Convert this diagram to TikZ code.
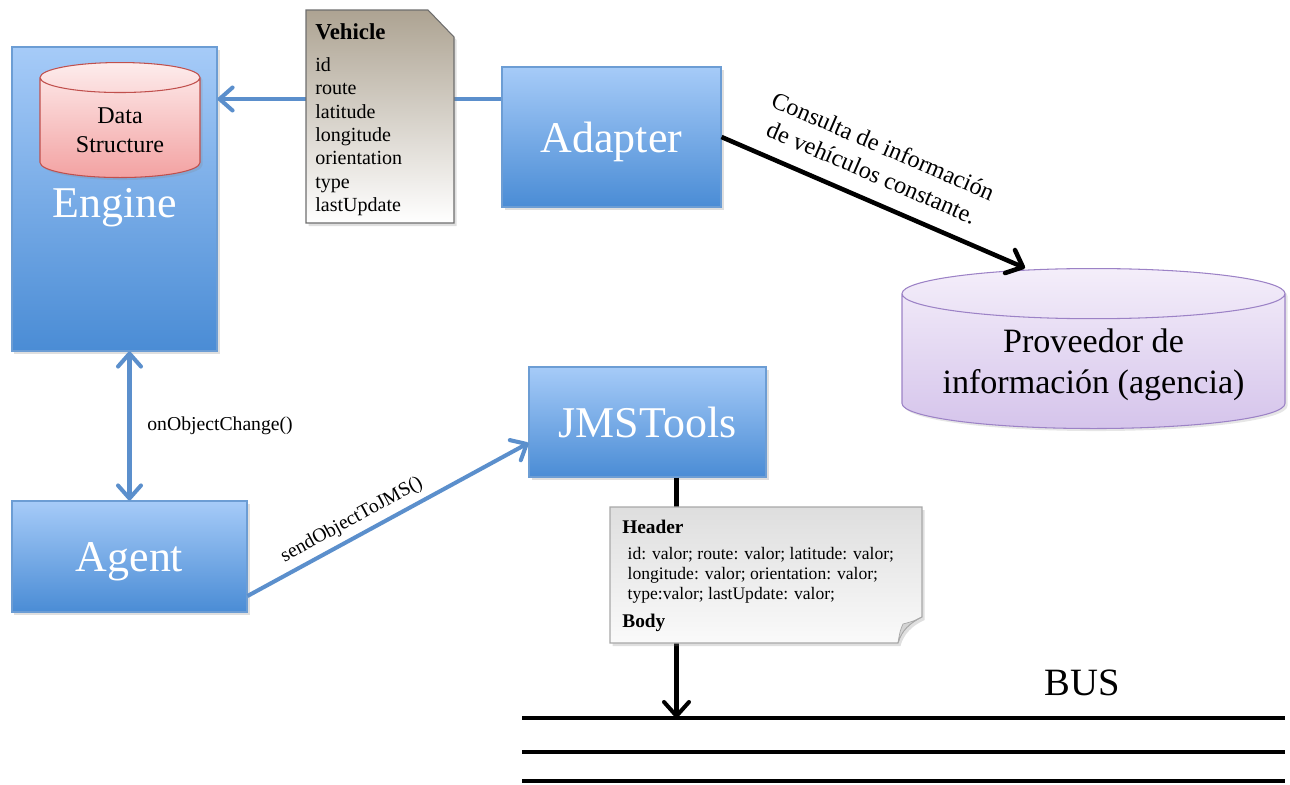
\documentclass[tikz,border=0pt]{standalone}
\usepackage{fontspec}
\setmainfont{Liberation Serif}
\usetikzlibrary{arrows.meta,positioning,calc,shapes.geometric,shadows}
\definecolor{boxtop}{HTML}{A6CBF8}
\definecolor{boxbot}{HTML}{4A8CD5}
\definecolor{boxline}{HTML}{6C9DD4}
\definecolor{flowc}{HTML}{5B8FCC}
\definecolor{dstop}{HTML}{FDECEC}
\definecolor{dsbot}{HTML}{F3A2A2}
\definecolor{dsline}{HTML}{C0504D}
\definecolor{provtop}{HTML}{F4EEFA}
\definecolor{provbot}{HTML}{D5C4EB}
\definecolor{provline}{HTML}{9C82C6}
\definecolor{vehtop}{HTML}{ADA392}
\definecolor{noteline}{HTML}{6E6E6E}
\definecolor{hdrtop}{HTML}{DEDEDE}
\definecolor{hdrbot}{HTML}{FAFAFA}
\definecolor{hdrline}{HTML}{A8A8A8}
\definecolor{curlc}{HTML}{D4D4D4}

\begin{document}
\begin{tikzpicture}[
    comp/.style={draw=boxline,line width=0.6pt,top color=boxtop,bottom color=boxbot,text=white,text depth=0pt,font=\fontsize{25}{28}\selectfont,drop shadow={opacity=0.25,shadow xshift=0.5mm,shadow yshift=-0.5mm}},
    store/.style={cylinder,shape border rotate=90,line width=0.6pt,align=center,anchor=north,drop shadow={opacity=0.2,shadow xshift=0.5mm,shadow yshift=-0.5mm}},
    note/.style={line width=0.6pt,drop shadow={opacity=0.25,shadow xshift=0.5mm,shadow yshift=-0.6mm}},
    flow/.style={flowc,line width=2.3pt,>={Straight Barb[round,length=2.6mm,width=4.6mm]}},
    push/.style={black,line width=2.6pt,>={Straight Barb[round,length=2.8mm,width=5mm]}},
    lbl/.style={text=black,font=\fontsize{11.2}{13}\selectfont},
  ]
  \useasboundingbox (0,0) rectangle (25.8,-15.7);

  \node[comp,minimum width=4.1cm,minimum height=6.08cm] (engine) at (2.29,-3.98) {\raisebox{-4pt}{Engine}};
  \node[store,draw=dsline,top color=dstop,bottom color=dsbot,minimum width=3.2cm,minimum height=2.3cm,aspect=0.3,font=\fontsize{13.7}{16.5}\selectfont] (ds) at (2.4,-1.24) {Data\\Structure};
  \node[comp,minimum width=4.38cm,minimum height=2.8cm] (adapter) at (12.23,-2.74) {Adapter};
  \node[comp,minimum width=4.74cm,minimum height=2.2cm] (jms) at (12.95,-8.44) {JMSTools};
  \node[comp,minimum width=4.7cm,minimum height=2.22cm] (agent) at (2.59,-11.13) {Agent};
  \node[store,draw=provline,top color=provtop,bottom color=provbot,minimum width=7.66cm,minimum height=3.2cm,aspect=0.16,font=\fontsize{19.4}{23.3}\selectfont] (prov) at (21.87,-5.36) {Proveedor de\\información (agencia)};

  \coordinate (aw) at ([yshift=0.76cm]adapter.west);
  \draw[flow,->] (aw) -- (aw -| engine.east);
  \draw[flow,<->] (agent.north) -- (agent.north |- engine.south)
    node[midway,right=0.2cm,lbl] {onObjectChange()};
  \draw[flow,->] ([yshift=-0.79cm]agent.east) -- ([yshift=-0.42cm]jms.west)
    node[pos=0.4,sloped,above,lbl] {sendObjectToJMS()};
  \draw[push,->] (adapter.east) -- ([xshift=-1.37cm]prov.north)
    node[pos=0.46,sloped,above=0.2cm,align=center,font=\fontsize{13.8}{16.5}\selectfont] {Consulta de información\\de vehículos constante.};

  \foreach \y/\n in {14.36/1,15.04/2,15.62/3} {
    \coordinate (bus\n w) at (10.44,-\y);
    \coordinate (bus\n e) at (25.7,-\y);
    \draw[black,line width=2.8pt] (bus\n w) -- (bus\n e);
  }
  \node[font=\fontsize{22}{24}\selectfont] (bus) at (21.64,-13.66) {BUS};
  \coordinate (jo) at ([xshift=0.58cm]jms.south);
  \draw[push,line width=2.3pt,->] (jo) -- (jo |- bus1w);

  \path[note,draw=noteline,top color=vehtop,bottom color=white] (6.12,-0.2) -- (8.56,-0.2) -- (9.08,-0.74) -- (9.08,-4.46) -- (6.12,-4.46) -- cycle;
  \node[anchor=north west,inner sep=0pt,align=left,font=\fontsize{11.4}{13.3}\selectfont] (veh) at (6.3,-0.46)
    {{\bfseries\fontsize{13}{13}\selectfont Vehicle}\\[5pt]id\\route\\latitude\\longitude\\orientation\\type\\lastUpdate};

  \path[note,draw=hdrline,top color=hdrtop,bottom color=hdrbot] (12.2,-10.14) -- (18.44,-10.14) -- (18.44,-12.34)
    .. controls (18.2,-12.45) and (18.02,-12.62) .. (17.96,-12.86) -- (12.2,-12.86) -- cycle;
  \path[draw=hdrline,fill=curlc,line width=0.4pt] (18.44,-12.34) .. controls (18.28,-12.42) .. (18.06,-12.48)
    .. controls (18.0,-12.62) .. (17.96,-12.86) .. controls (18.02,-12.62) and (18.2,-12.45) .. (18.44,-12.34);
  \node[anchor=north west,inner sep=0pt,align=left,font=\fontsize{10}{11.4}\selectfont] (hdr) at (12.44,-10.4)
    {{\bfseries\fontsize{11}{11}\selectfont Header}\\[3pt]
     \hspace*{3pt}id: valor; route: valor; latitude: valor;\\
     \hspace*{3pt}longitude: valor; orientation: valor;\\
     \hspace*{3pt}type:valor; lastUpdate: valor;\\[5pt]
     {\bfseries\fontsize{11}{11}\selectfont Body}};
\end{tikzpicture}
\end{document}
